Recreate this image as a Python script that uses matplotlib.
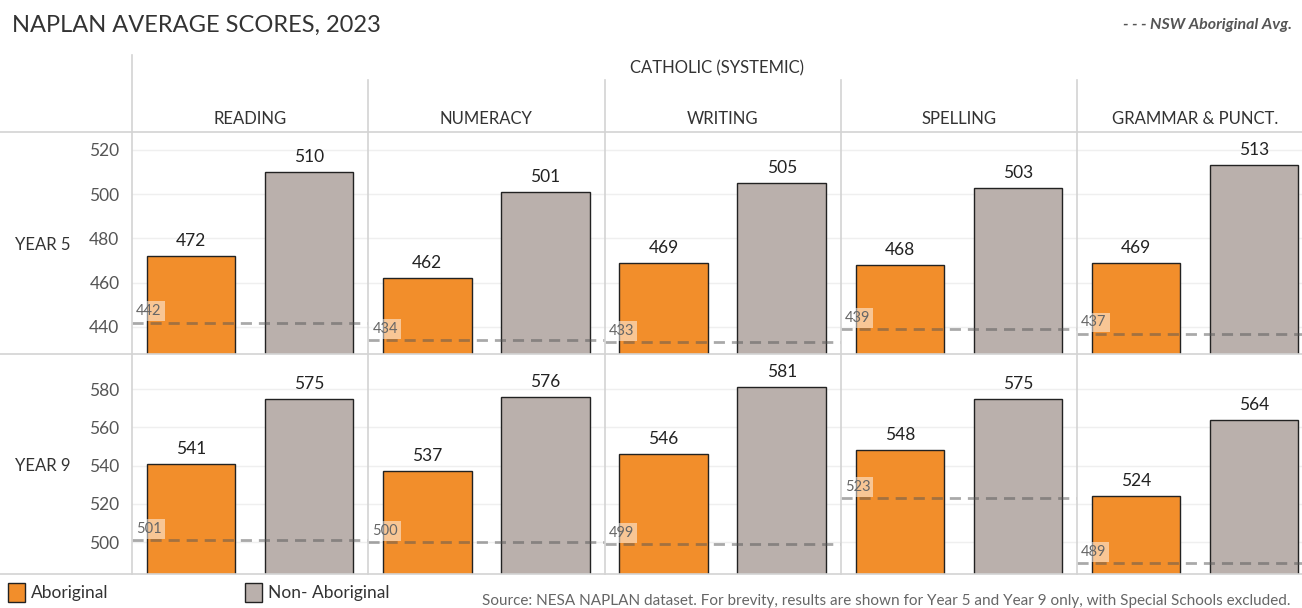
import matplotlib.pyplot as plt
from matplotlib.lines import Line2D
from matplotlib.patches import Rectangle

plt.rcParams['font.family'] = ['Lato', 'DejaVu Sans']

subjects = ['READING', 'NUMERACY', 'WRITING', 'SPELLING', 'GRAMMAR & PUNCT.']
years = ['YEAR 5', 'YEAR 9']
groups = ['Aboriginal', 'Non- Aboriginal']

y5_abor = [472, 462, 469, 468, 469]
y5_non = [510, 501, 505, 503, 513]
y5_nsw = [442, 434, 433, 439, 437]
y9_abor = [541, 537, 546, 548, 524]
y9_non = [575, 576, 581, 575, 564]
y9_nsw = [501, 500, 499, 523, 489]

ORANGE = '#F28E2B'
GREY = '#BAB0AC'
LINE = '#d3d3d3'
TXT = '#333333'

W, H = 1302, 608
fig = plt.figure(figsize=(W / 100, H / 100), dpi=100)


def fx(x):
    return x / W


def fy(y):
    return 1 - y / H


rows = [
    dict(abor=y5_abor, non=y5_non, nsw=y5_nsw, top=132, bot=354,
         ylim=(427.8, 528.1), ticks=[440, 460, 480, 500, 520]),
    dict(abor=y9_abor, non=y9_non, nsw=y9_nsw, top=354, bot=574,
         ylim=(483.3, 598.3), ticks=[500, 520, 540, 560, 580]),
]
col_left = [132 + 236.25 * i for i in range(5)]
col_w = 236.25

for r, row in enumerate(rows):
    for c in range(5):
        ax = fig.add_axes([fx(col_left[c]), fy(row['bot']), fx(col_w),
                           (row['bot'] - row['top']) / H])
        ax.set_xlim(-0.5, 1.5)
        ax.set_ylim(*row['ylim'])
        for s in ax.spines.values():
            s.set_visible(False)
        ax.set_xticks([])
        ax.set_yticks(row['ticks'])
        ax.tick_params(axis='y', length=0, labelsize=12.5, labelcolor='#555555', pad=9)
        if c > 0:
            ax.set_yticklabels([])
        ax.grid(axis='y', color='#efefef', lw=1)
        ax.set_axisbelow(True)
        vals = [row['abor'][c], row['non'][c]]
        bars = ax.bar([0, 1], vals, width=0.75, color=[ORANGE, GREY],
                      edgecolor='#222222', lw=1, zorder=2)
        for b, v in zip(bars, vals):
            ax.annotate(str(v), xy=(b.get_x() + b.get_width() / 2, v),
                        xytext=(0, 5), textcoords='offset points',
                        ha='center', va='bottom', fontsize=12.5, color='#222222')
        avg = row['nsw'][c]
        ax.axhline(avg, color='#555555', alpha=0.5, lw=2, ls=(0, (4, 2.5)), zorder=3)
        ax.annotate(str(avg), xy=(-0.5, avg), xytext=(3, 3), textcoords='offset points',
                    ha='left', va='bottom', fontsize=10.5, color='#666666', zorder=4,
                    bbox=dict(boxstyle='square,pad=0.2', fc='white', ec='none', alpha=0.5))
        if r == 0:
            fig.text(fx(col_left[c] + col_w / 2), fy(119), subjects[c], ha='center',
                     va='center', fontsize=12, color=TXT)
    fig.text(fx(15), fy((row['top'] + row['bot']) / 2 + 2), years[r], ha='left',
             va='center', fontsize=12, color=TXT)

# grid frame
for y in [132, 354, 574]:
    fig.add_artist(Line2D([0, 1], [fy(y), fy(y)], color=LINE, lw=1.2))
fig.add_artist(Line2D([fx(132), fx(132)], [fy(55), fy(574)], color=LINE, lw=1.2))
for x in col_left[1:]:
    fig.add_artist(Line2D([fx(x), fx(x)], [fy(80), fy(574)], color=LINE, lw=1.2))

fig.text(fx(12), fy(25), 'NAPLAN AVERAGE SCORES, 2023', ha='left', va='center',
         fontsize=17, color=TXT)
fig.text(fx(1292), fy(25), '- - - NSW Aboriginal Avg.', ha='right', va='center',
         fontsize=11.5, color='#555555', style='italic', weight='bold')
fig.text(fx(717), fy(68), 'CATHOLIC (SYSTEMIC)', ha='center', va='center',
         fontsize=12, color=TXT)

# legend
for x0, col, lab in [(8, ORANGE, groups[0]), (245, GREY, groups[1])]:
    fig.add_artist(Rectangle((fx(x0), fy(602)), fx(17), 19 / H, fc=col,
                             ec='#222222', lw=1))
    fig.text(fx(x0 + 23), fy(593), lab, ha='left', va='center', fontsize=12.5, color=TXT)

fig.text(fx(1290), fy(601), 'Source: NESA NAPLAN dataset. For brevity, results are shown '
         'for Year 5 and Year 9 only, with Special Schools excluded.', ha='right',
         va='center', fontsize=11, color='#666666')

fig.savefig('out.png', dpi=100)
